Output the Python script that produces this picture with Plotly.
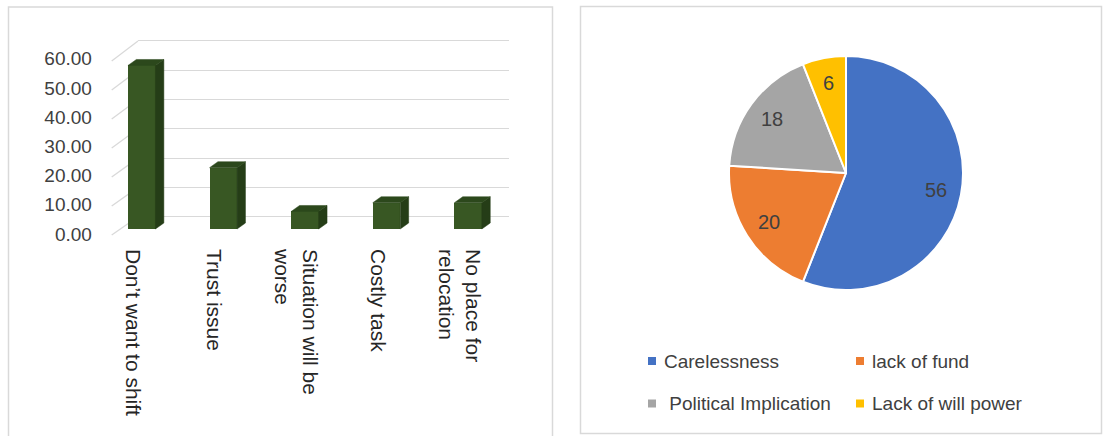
import math
import plotly.graph_objects as go

# ---------------- data ----------------
categories = ["Don\u2019t want to shift", "Trust issue", "Situation will be<br>worse",
              "Costly task", "No place for<br>relocation"]
bar_values = [56, 21, 6, 9, 9]
y_ticks = [0, 10, 20, 30, 40, 50, 60]

pie_labels = ["Carelessness", "lack of fund", "\u00a0Political Implication", "Lack of will power"]
pie_values = [56, 20, 18, 6]
pie_colors = ["#4472C4", "#ED7D31", "#A5A5A5", "#FFC000"]

# ---------------- geometry (pixels) ----------------
W, H = 1105, 436
def xp(px):
    return px / W
def yp(py):
    return 1 - py / H

FONT = "Liberation Sans"
plot_top, plot_bot = 30, 245
cat_left, cat_right = 100.9, 508.9          # category range -0.5 .. 4.5
floor_px, unit_px = 229.0, 2.92             # bar front floor
grid_zero, grid_unit = 216.7, 2.93          # back wall grid
grid_left, grid_right = 138.0, 509.0
front_zero, front_unit = 235.0, 2.9         # front edge (slant start)
slant_left = 111.7

bar_w = 27.5 / 81.6
dx = 8.4 / 81.6
dy = 6.0 / unit_px

y2_range = [(floor_px - plot_bot) / unit_px, (floor_px - plot_top) / unit_px]
y_range = [(grid_zero - plot_bot) / grid_unit, (grid_zero - plot_top) / grid_unit]

fig = go.Figure()

# dummy trace for the back-wall grid subplot
fig.add_trace(go.Scatter(x=[0.5], y=[0], mode="markers", marker=dict(opacity=0),
                         hoverinfo="skip", showlegend=False, xaxis="x", yaxis="y"))

# bar front faces
idx = list(range(len(bar_values)))
fig.add_trace(go.Bar(x=idx, y=bar_values, width=bar_w, marker=dict(color="#385723", line=dict(width=0)),
                     showlegend=False, xaxis="x2", yaxis="y2", hovertemplate="%{y:.2f}<extra></extra>"))

# side and top faces (pseudo 3D), derived from values
sx, sy, tx, ty = [], [], [], []
h = bar_w / 2
for i, v in zip(idx, bar_values):
    sx += [i + h, i + h + dx, i + h + dx, i + h, i + h, None]
    sy += [0, dy, v + dy, v, 0, None]
    tx += [i - h, i - h + dx, i + h + dx, i + h, i - h, None]
    ty += [v, v + dy, v + dy, v, v, None]
fig.add_trace(go.Scatter(x=sx, y=sy, mode="lines", fill="toself", fillcolor="#253d17",
                         line=dict(color="#253d17", width=0.5), hoverinfo="skip",
                         showlegend=False, xaxis="x2", yaxis="y2"))
fig.add_trace(go.Scatter(x=tx, y=ty, mode="lines", fill="toself", fillcolor="#2c481c",
                         line=dict(color="#2c481c", width=0.5), hoverinfo="skip",
                         showlegend=False, xaxis="x2", yaxis="y2"))

# pie
cx, cy, r = 846, 173, 117
fig.add_trace(go.Pie(labels=pie_labels, values=pie_values, sort=False, direction="clockwise",
                     rotation=0, marker=dict(colors=pie_colors, line=dict(color="white", width=2)),
                     textinfo="none", showlegend=False,
                     hovertemplate="%{label}: %{value}<extra></extra>",
                     domain=dict(x=[xp(cx - r), xp(cx + r)], y=[yp(cy + r), yp(cy - r)])))

annotations = []
shapes = []

# pie value labels at each slice's mid-angle
total = float(sum(pie_values))
cum = 0.0
k = 0.78
for v in pie_values:
    theta = math.radians((cum + v / 2.0) / total * 360.0)
    cum += v
    px = cx + k * r * math.sin(theta)
    py = cy - k * r * math.cos(theta)
    annotations.append(dict(x=xp(px), y=yp(py), xref="paper", yref="paper", text=str(v),
                            xanchor="center", yanchor="middle", showarrow=False,
                            font=dict(family=FONT, size=20, color="#404040")))

# legend of the pie (2 x 2 grid)
leg_col_x = [652, 860]     # marker centres
leg_row_y = [361, 403.5]
mk = 4.0
for j, (lab, col) in enumerate(zip(pie_labels, pie_colors)):
    mx = leg_col_x[j % 2]
    my = leg_row_y[j // 2]
    shapes.append(dict(type="rect", xref="paper", yref="paper", x0=xp(mx - mk), x1=xp(mx + mk),
                       y0=yp(my + mk), y1=yp(my - mk), fillcolor=col, line=dict(width=0)))
    annotations.append(dict(x=xp(mx + 10), y=yp(my), xref="paper", yref="paper", text=lab,
                            xanchor="left", yanchor="middle", showarrow=False,
                            font=dict(family=FONT, size=19, color="#404040")))

# slanted front-to-back grid segments
for v in y_ticks:
    shapes.append(dict(type="line", xref="paper", yref="paper", layer="below",
                       x0=xp(slant_left), y0=yp(front_zero - front_unit * v),
                       x1=xp(grid_left), y1=yp(grid_zero - grid_unit * v),
                       line=dict(color="#d9d9d9", width=1.3)))
# panel borders
shapes.append(dict(type="rect", xref="paper", yref="paper", x0=xp(8.5), x1=xp(552.5),
                   y0=yp(445), y1=yp(7), line=dict(color="#d9d9d9", width=1.5)))
shapes.append(dict(type="rect", xref="paper", yref="paper", x0=xp(580.5), x1=xp(1101.5),
                   y0=yp(433.5), y1=yp(6.5), line=dict(color="#d9d9d9", width=1.5)))

fig.update_layout(
    width=W, height=H, margin=dict(l=0, r=0, t=0, b=0, autoexpand=False),
    paper_bgcolor="white", plot_bgcolor="rgba(0,0,0,0)",
    font=dict(family=FONT, color="#404040"),
    bargap=0, showlegend=False,
    shapes=shapes,
    annotations=annotations,
    xaxis=dict(domain=[xp(grid_left), xp(grid_right)], range=[0, 1], anchor="y",
               showgrid=False, zeroline=False, showline=False, showticklabels=False, fixedrange=True),
    yaxis=dict(domain=[yp(plot_bot), yp(plot_top)], range=y_range, anchor="x",
               tickvals=y_ticks, showgrid=True, gridcolor="#d9d9d9", gridwidth=1.3,
               zeroline=False, showline=False, showticklabels=False, fixedrange=True),
    xaxis2=dict(domain=[xp(cat_left), xp(cat_right)], range=[-0.5, 4.5], anchor="y2",
                tickvals=idx, ticktext=categories, tickangle=90,
                tickfont=dict(family=FONT, size=21, color="#262626"),
                ticklabelshift=-9, ticklabelstandoff=3,
                showgrid=False, zeroline=False, showline=False, ticks="", fixedrange=True),
    yaxis2=dict(domain=[yp(plot_bot), yp(plot_top)], range=y2_range, anchor="x2",
                tickvals=y_ticks, tickformat=".2f",
                tickfont=dict(family=FONT, size=19, color="#404040"),
                ticklabelshift=5, ticklabelstandoff=8,
                showgrid=False, zeroline=False, showline=False, ticks="", fixedrange=True),
)

fig.write_html("out.html")
